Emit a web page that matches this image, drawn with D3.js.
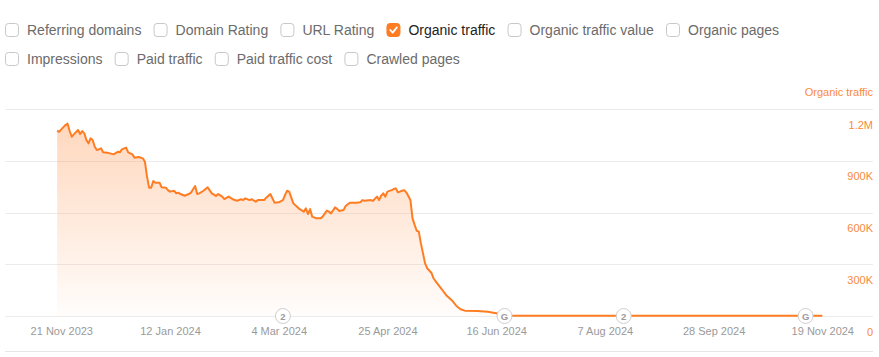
<!DOCTYPE html>
<html><head><meta charset="utf-8">
<script src="https://cdn.jsdelivr.net/npm/d3@7"></script>
<style>
html,body{margin:0;padding:0;background:#fff;}
svg{display:block;font-family:"Liberation Sans",Arial,Helvetica,sans-serif;}
</style></head>
<body><svg id="c" width="879" height="357"></svg>
<script>
// ---- data ----
const legendRow1 = ["Referring domains","Domain Rating","URL Rating","Organic traffic","Organic traffic value","Organic pages"];
const legendRow2 = ["Impressions","Paid traffic","Paid traffic cost","Crawled pages"];
const selectedSeries = "Organic traffic";
const dates = ["2023-11-19","2023-11-20","2023-11-21","2023-11-23","2023-11-24","2023-11-25","2023-11-26","2023-11-27","2023-11-29","2023-11-30",
"2023-12-01","2023-12-02","2023-12-03","2023-12-04","2023-12-05","2023-12-06","2023-12-07","2023-12-08","2023-12-10","2023-12-11",
"2023-12-13","2023-12-16","2023-12-18","2023-12-19","2023-12-20","2023-12-22","2023-12-23","2023-12-25","2023-12-26","2023-12-28",
"2023-12-30","2023-12-31","2024-01-01","2024-01-02","2024-01-03","2024-01-04","2024-01-05","2024-01-07","2024-01-08","2024-01-10",
"2024-01-11","2024-01-12","2024-01-14","2024-01-15","2024-01-16","2024-01-17","2024-01-19","2024-01-21","2024-01-22","2024-01-24",
"2024-01-25","2024-01-26","2024-01-28","2024-01-30","2024-02-01","2024-02-03","2024-02-04","2024-02-06","2024-02-07","2024-02-09",
"2024-02-11","2024-02-13","2024-02-15","2024-02-16","2024-02-17","2024-02-19","2024-02-20","2024-02-22","2024-02-23","2024-02-26",
"2024-02-27","2024-02-29","2024-03-01","2024-03-02","2024-03-04","2024-03-06","2024-03-07","2024-03-08","2024-03-09","2024-03-11",
"2024-03-13","2024-03-14","2024-03-16","2024-03-17","2024-03-18","2024-03-19","2024-03-20","2024-03-22","2024-03-24","2024-03-25",
"2024-03-27","2024-03-28","2024-03-29","2024-03-31","2024-04-02","2024-04-04","2024-04-05","2024-04-07","2024-04-10","2024-04-12",
"2024-04-13","2024-04-14","2024-04-17","2024-04-18","2024-04-20","2024-04-21","2024-04-22","2024-04-23","2024-04-24","2024-04-25",
"2024-04-27","2024-04-28","2024-04-29","2024-04-30","2024-05-02","2024-05-03","2024-05-04","2024-05-05","2024-05-06","2024-05-07",
"2024-05-08","2024-05-09","2024-05-10","2024-05-11","2024-05-12","2024-05-13","2024-05-14","2024-05-16","2024-05-17","2024-05-19",
"2024-05-21","2024-05-23","2024-05-26","2024-05-28","2024-05-30","2024-06-01","2024-06-07","2024-06-12","2024-06-16","2024-06-19",
"2024-06-23","2024-07-08","2024-08-27","2024-10-16","2024-11-19"];
const organicTraffic = [1074000,1068000,1082000,1107000,1115000,1072000,1039000,1053000,1078000,1055000,
1072000,1059000,1020000,1001000,1030000,1020000,981000,962000,972000,949000,
947000,937000,952000,949000,966000,976000,949000,937000,918000,922000,
914000,894000,808000,744000,744000,783000,773000,773000,746000,744000,
730000,721000,726000,711000,715000,707000,697000,707000,715000,754000,
707000,711000,726000,746000,711000,696000,707000,692000,678000,692000,
677000,668000,677000,672000,682000,672000,677000,663000,672000,672000,
686000,707000,682000,657000,659000,672000,701000,726000,721000,653000,
630000,619000,605000,624000,591000,620000,576000,566000,566000,576000,
611000,605000,595000,630000,609000,614000,638000,657000,657000,659000,
672000,668000,672000,667000,692000,672000,697000,711000,692000,721000,
730000,736000,740000,717000,726000,730000,717000,696000,672000,566000,
528000,494000,489000,421000,363000,305000,277000,251000,219000,186000,
155000,122000,89000,58000,39000,31000,29000,25000,16000,6000,
2000,1000,1000,1000,1000];
const xTickDates = ["2023-11-21","2024-01-12","2024-03-04","2024-04-25","2024-06-16","2024-08-07","2024-09-28","2024-11-19"];
const yTickValues = [0,300000,600000,900000,1200000];
const yTickLabels = ["0","300K","600K","900K","1.2M"];
const annotationDates = ["2024-03-06","2024-06-20","2024-08-16","2024-11-11"];
const annotationLabels = ["2","G","2","G"];

// ---- layout ----
const svg = d3.select("#c");
const parse = d3.utcParse("%Y-%m-%d");
const orange = "#ff7d22";
const grey = "#6b6b6b";

// legend
function drawLegendRow(items, y){
  let x = 5;
  items.forEach(name=>{
    const sel = name === selectedSeries;
    const g = svg.append("g");
    g.append("rect").attr("x",x+0.5).attr("y",y-6.5).attr("width",13).attr("height",13).attr("rx",3)
      .attr("fill", sel?orange:"#fff").attr("stroke", sel?orange:"#c8c8c8").attr("stroke-width",1);
    if(sel){
      g.append("path").attr("d",`M${x+3.8},${y} L${x+6.2},${y+2.6} L${x+10.4},${y-2.6}`)
        .attr("fill","none").attr("stroke","#fff").attr("stroke-width",1.8).attr("stroke-linecap","round").attr("stroke-linejoin","round");
    }
    const t = g.append("text").attr("x",x+22).attr("y",y+5).attr("font-size",14)
      .attr("fill", sel?"#222":grey).text(name);
    x = x + 22 + t.node().getComputedTextLength() + 12.2;
  });
}
drawLegendRow(legendRow1, 30);
drawLegendRow(legendRow2, 59);

const x = d3.scaleUtc().domain([parse("2023-11-21"), parse("2024-11-19")]).range([61.3, 822.3]);
const y = d3.scaleLinear().domain([0,1200000]).range([316,109]);

// gridlines
const grid = svg.append("g");
yTickValues.forEach(v=>{
  grid.append("line").attr("x1",5).attr("x2",873).attr("y1",Math.round(y(v))+0.5).attr("y2",Math.round(y(v))+0.5)
    .attr("stroke", "#ececec").attr("stroke-width",1.2);
});
svg.append("line").attr("x1",5).attr("x2",873).attr("y1",351.5).attr("y2",351.5).attr("stroke","#e6e6e6");

// right axis labels
const yAxis = d3.axisRight(y).tickValues(yTickValues).tickSize(0)
  .tickFormat((d,i)=>yTickLabels[i]);
const ya = svg.append("g").attr("transform","translate(873,0)").call(yAxis);
ya.select(".domain").remove();
ya.selectAll("text").attr("text-anchor","end").attr("x",0).attr("dy",0)
  .attr("transform","translate(0,19)")
  .attr("fill","#f98a3a").attr("font-size",11).attr("font-family","Liberation Sans, Arial, sans-serif");
svg.append("text").attr("x",873).attr("y",96).attr("text-anchor","end").attr("font-size",11)
  .attr("fill","#f98a3a").text("Organic traffic");

// gradient
const defs = svg.append("defs");
const grad = defs.append("linearGradient").attr("id","fillg").attr("gradientUnits","userSpaceOnUse")
  .attr("x1",0).attr("x2",0).attr("y1",y(1200000)).attr("y2",y(0));
grad.append("stop").attr("offset",0).attr("stop-color","#ff8a3d").attr("stop-opacity",0.36);
grad.append("stop").attr("offset",1).attr("stop-color","#ff8a3d").attr("stop-opacity",0.02);

const data = dates.map((d,i)=>({date:parse(d), v:organicTraffic[i]}));
const area = d3.area().x(d=>x(d.date)).y0(y(0)).y1(d=>y(d.v)).curve(d3.curveLinear);
const line = d3.line().x(d=>x(d.date)).y(d=>y(d.v)).curve(d3.curveLinear);
svg.append("path").datum(data).attr("d",area).attr("fill","url(#fillg)");
svg.append("path").datum(data).attr("d",line).attr("fill","none").attr("stroke",orange)
  .attr("stroke-width",2).attr("stroke-linejoin","round");

// x axis labels
const xAxis = d3.axisBottom(x).tickValues(xTickDates.map(parse)).tickSize(0)
  .tickFormat(d3.utcFormat("%-d %b %Y"));
const xa = svg.append("g").attr("transform","translate(0,316)").call(xAxis);
xa.select(".domain").remove();
xa.selectAll("text").attr("y",19).attr("dy",0).attr("fill","#9a9a9a").attr("font-size",11)
  .attr("font-family","Liberation Sans, Arial, sans-serif");

// annotations
annotationDates.forEach((d,i)=>{
  const cx = x(parse(d));
  const g = svg.append("g").attr("transform",`translate(${cx},316)`);
  g.append("circle").attr("r",7.5).attr("fill","#fff").attr("stroke","#cfcfcf").attr("stroke-width",1);
  g.append("text").attr("text-anchor","middle").attr("y",3.5).attr("font-size",9.5).attr("font-weight","bold")
    .attr("fill","#9a9a9a").text(annotationLabels[i]);
});
</script></body></html>
